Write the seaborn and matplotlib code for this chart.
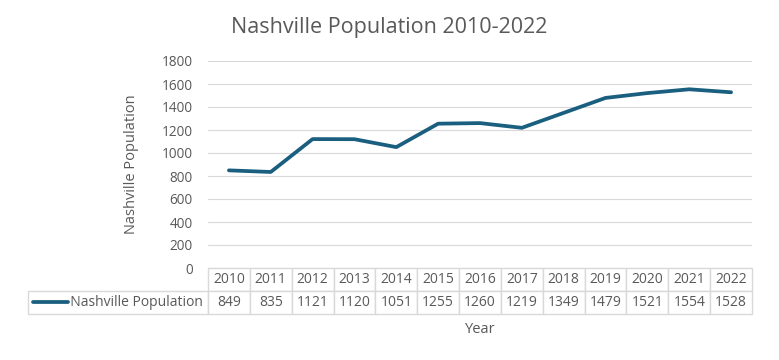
import matplotlib.pyplot as plt
import seaborn as sns
import pandas as pd
from matplotlib.table import Table

years = [2010, 2011, 2012, 2013, 2014, 2015, 2016, 2017, 2018, 2019, 2020, 2021, 2022]
population = [849, 835, 1121, 1120, 1051, 1255, 1260, 1219, 1349, 1479, 1521, 1554, 1528]
series_name = 'Nashville Population'

line_color = '#1a5f7f'
grid_color = '#d9d9d9'
text_color = '#595959'

sns.set_theme(style='white')
plt.rcParams['font.family'] = ['Open Sans', 'DejaVu Sans']

df = pd.DataFrame({'Year': years, series_name: population})

fig = plt.figure(figsize=(7.79, 3.6), dpi=100)
ax = fig.add_axes([208 / 779, 1 - 268 / 360, 544 / 779, 207 / 360])

sns.lineplot(data=df, x='Year', y=series_name, ax=ax, color=line_color, linewidth=2.7)

ax.set_xlim(years[0] - 0.5, years[-1] + 0.5)
ax.set_ylim(0, 1800)
ax.set_yticks(range(0, 1801, 200))
ax.yaxis.grid(True, color=grid_color, linewidth=0.8)
ax.set_axisbelow(True)
for s in ax.spines.values():
    s.set_visible(False)
ax.tick_params(axis='y', length=0, pad=11, labelsize=9.8, labelcolor=text_color)
ax.set_xticks([])
ax.set_ylabel(series_name, fontsize=10.5, color=text_color, labelpad=16)
ax.set_xlabel('Year', fontsize=10.5, color=text_color, labelpad=39)

# data table below the plot
w_axes = 544
lab_w = 180 / w_axes
col_w = 1 / len(years)
tbl = Table(ax, bbox=[-lab_w, -46 / 207, 1 + lab_w, 46 / 207])
corner = tbl.add_cell(0, 0, lab_w, 0.5, text='', loc='center')
corner.visible_edges = ''
label_cell = tbl.add_cell(1, 0, lab_w, 0.5, text='          ' + series_name, loc='center')
label_cell.set_edgecolor(grid_color)
label_cell.get_text().set_color(text_color)
for j, (yr, v) in enumerate(zip(years, population), start=1):
    c = tbl.add_cell(0, j, col_w, 0.5, text=str(yr), loc='center')
    c.set_edgecolor(grid_color)
    c.get_text().set_color(text_color)
    c = tbl.add_cell(1, j, col_w, 0.5, text=str(v), loc='center')
    c.set_edgecolor(grid_color)
    c.get_text().set_color(text_color)
tbl.auto_set_font_size(False)
tbl.set_fontsize(10)
ax.add_table(tbl)

# legend key inside the table label cell
ax.plot([(33 - 208) / w_axes, (68 - 208) / w_axes], [-34 / 207, -34 / 207],
        transform=ax.transAxes, color=line_color, linewidth=2.7,
        solid_capstyle='round', clip_on=False)

fig.suptitle('Nashville Population 2010-2022', y=1 - 28 / 360, va='center',
             fontsize=15.5, color=text_color)

fig.savefig('out.png', dpi=100)
